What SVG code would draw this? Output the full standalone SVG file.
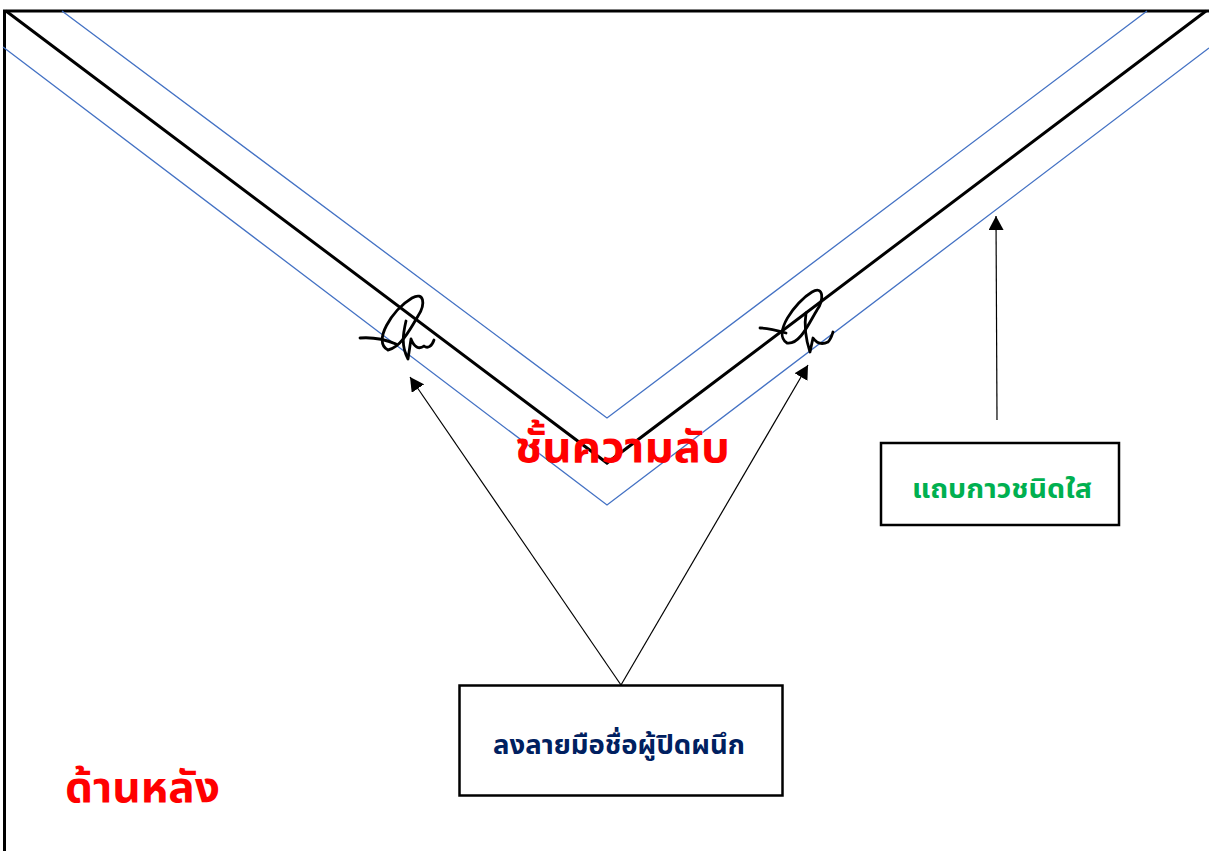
<svg xmlns="http://www.w3.org/2000/svg" width="1209" height="851" viewBox="0 0 1209 851">
  <style>
    .frame { fill: none; stroke: #000; stroke-width: 3; }
    .fold { fill: none; stroke: #000; stroke-width: 3; stroke-linejoin: miter; }
    .tape { fill: none; stroke: #4472C4; stroke-width: 1.3; }
    .sig { fill: none; stroke: #000; stroke-width: 2.8; stroke-linecap: round; stroke-linejoin: round; }
    .conn { fill: none; stroke: #000; stroke-width: 1.2; }
    .box { fill: #fff; stroke: #000; stroke-width: 2.5; }
    .th { font-family: "Noto Sans Thai", "Noto Sans", "Tahoma", "DejaVu Sans", sans-serif; }
    .red { fill: #FF0000; font-weight: bold; font-size: 43px; }
    .green { fill: #00B050; font-weight: bold; font-size: 26px; }
    .navy { fill: #002060; font-weight: bold; font-size: 26px; }
  </style>
  <defs>
    <marker id="ah2" viewBox="0 0 10 10" refX="10" refY="5" markerWidth="14" markerHeight="15" markerUnits="userSpaceOnUse" orient="auto" preserveAspectRatio="none">
      <path d="M0,0 L10,5 L0,10 z" fill="#000"/>
    </marker>
  </defs>

  <g id="envelope">
    <path class="frame" d="M3,11 L1209,11 M4.5,11 L4.5,851"/>
    <path class="tape" d="M62,11 L607,418 L1147,11"/>
    <path class="tape" d="M3,47 L607,505 L1209,48"/>
    <path class="fold" d="M6,11 L607,463 L1206,11"/>
  </g>

  <g id="signature-left">
    <path class="sig" d="M360,338 C372,337 384,339 396,344"/>
    <path class="sig" d="M388,350 C372,342 392,310 412,298 C424,291 426,304 418,316 C410,330 400,348 388,350"/>
    <path class="sig" d="M406,321 C403,334 401,346 408,359 L411,339 C414,347 419,350 424,346 C428,349 432,346 434,340"/>
  </g>

  <g id="signature-right">
    <path class="sig" d="M760,328 C768,328 776,330 786,333"/>
    <path class="sig" d="M787,343 C772,334 795,302 812,292 C824,285 824,300 817,310 C809,323 800,345 787,343"/>
    <path class="sig" d="M806,313 C804,326 806,340 810,352 L813,338 C818,345 824,344 828,342 C831,339 832,335 833,332"/>
  </g>

  <g id="connectors">
    <line class="conn" x1="621" y1="685" x2="410" y2="377" marker-end="url(#ah2)"/>
    <line class="conn" x1="621" y1="685" x2="808" y2="365" marker-end="url(#ah2)"/>
    <line class="conn" x1="997" y1="420" x2="996" y2="216" marker-end="url(#ah2)"/>
  </g>

  <g id="label-secret">
    <text class="th red" x="515" y="462" textLength="215" lengthAdjust="spacingAndGlyphs">ชั้นความลับ</text>
  </g>

  <g id="label-back">
    <text class="th red" x="65" y="802" textLength="155" lengthAdjust="spacingAndGlyphs">ด้านหลัง</text>
  </g>

  <g id="node-tape">
    <rect class="box" x="881" y="443" width="238" height="82"/>
    <text class="th green" x="912" y="498" textLength="180" lengthAdjust="spacingAndGlyphs">แถบกาวชนิดใส</text>
  </g>

  <g id="node-sign">
    <rect class="box" x="459.5" y="685.5" width="323" height="110"/>
    <text class="th navy" x="493" y="754" textLength="252" lengthAdjust="spacingAndGlyphs">ลงลายมือชื่อผู้ปิดผนึก</text>
  </g>
</svg>
